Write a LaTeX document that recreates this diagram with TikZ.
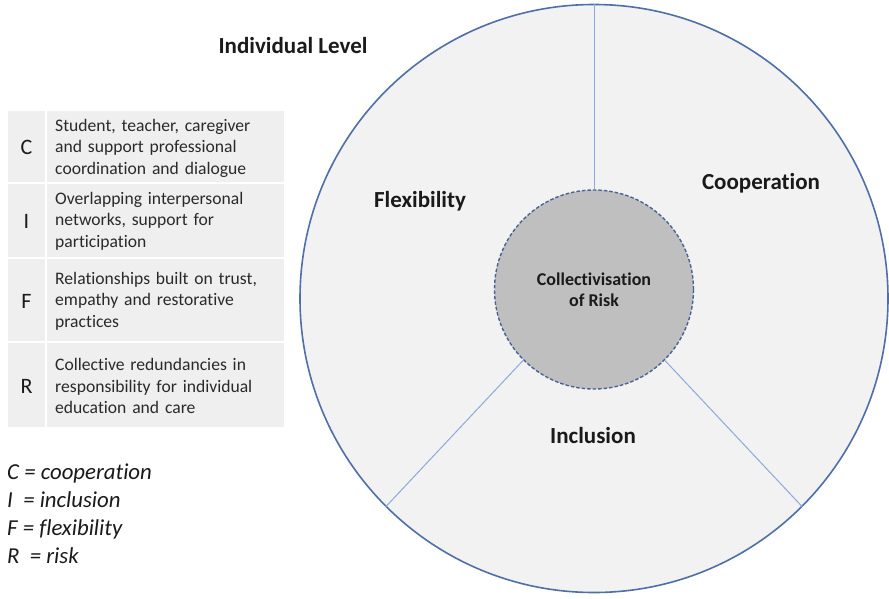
\documentclass[tikz,border=0pt]{standalone}
\usepackage{fontspec}
\setmainfont{Carlito}[Ligatures=NoCommon]
\begin{document}
\begin{tikzpicture}[x=1pt,y=-1pt,
  ringline/.style={draw=ringblue,line width=1.6pt,fill=sectorfill,circle,inner sep=0pt},
  coredisc/.style={draw=coreblue,line width=1.4pt,dash pattern=on 3.5pt off 2pt,fill=coregray,circle,inner sep=0pt},
  spoke/.style={draw=spokeblue,line width=1pt},
  sectorlabel/.style={font=\fontsize{23}{28}\selectfont\bfseries,text=inkblack},
  cell/.style={fill=cellgray,draw=white,line width=2pt},
  letter/.style={font=\fontsize{22}{26}\selectfont,text=inkblack},
  celltext/.style={font=\fontsize{17.6}{21.5}\selectfont,text=inkgray,align=left,anchor=west,inner sep=0pt,text width=230pt},
  legend/.style={font=\fontsize{22.8}{28}\selectfont\itshape,text=inkblack,align=left,anchor=north west,inner sep=0pt}
]
\definecolor{ringblue}{HTML}{4F6FA8}
\definecolor{spokeblue}{HTML}{8EA9DB}
\definecolor{coreblue}{HTML}{4A6396}
\definecolor{sectorfill}{HTML}{F2F2F2}
\definecolor{coregray}{HTML}{BFBFBF}
\definecolor{cellgray}{HTML}{EFEFEF}
\definecolor{inkblack}{HTML}{1A1A1A}
\definecolor{inkgray}{HTML}{2A2A2A}

% canvas
\fill[white] (0,0) rectangle (889,598);
\useasboundingbox (0,0) rectangle (889,598);

% outer ring, spokes and the central disc
\node[ringline,minimum size=588pt] (ring) at (594,298.5) {};
\node[coredisc,minimum size=199pt] (core) at (594,289.5) {};
\draw[spoke] (core.90) -- (ring.90);
\draw[spoke] (core.-45) -- (ring.-45);
\draw[spoke] (core.-135) -- (ring.-135);

% labels on the wheel
\node[font=\fontsize{18}{21}\selectfont\bfseries,text=inkblack,align=center] (risk) at (594,290) {Collectivisation\\of Risk};
\node[sectorlabel] (flex) at (420,201) {Flexibility};
\node[sectorlabel] (coop) at (761,183) {Cooperation};
\node[sectorlabel] (incl) at (593,436) {Inclusion};
\node[sectorlabel] (level) at (293,46) {Individual Level};

% table of dimensions
\draw[cell] (7,110) rectangle (46,183);
\draw[cell] (46,110) rectangle (285,183);
\draw[cell] (7,183) rectangle (46,258);
\draw[cell] (46,183) rectangle (285,258);
\draw[cell] (7,258) rectangle (46,342);
\draw[cell] (46,258) rectangle (285,342);
\draw[cell] (7,342) rectangle (46,428);
\draw[cell] (46,342) rectangle (285,428);

\node[letter] (lc) at (26.5,147) {C};
\node[letter] (li) at (26.5,221) {I};
\node[letter] (lf) at (26.5,301) {F};
\node[letter] (lr) at (26.5,386) {R};

\node[celltext] (tc) at (55,148) {Student, teacher, caregiver\\and support professional\\coordination and dialogue};
\node[celltext] (ti) at (55,221) {Overlapping interpersonal\\networks, support for\\participation};
\node[celltext] (tf) at (55,301) {Relationships built on trust,\\empathy and restorative\\practices};
\node[celltext] (tr) at (55,386) {Collective redundancies in\\responsibility for individual\\education and care};

% key
\node[legend] (key) at (7,464) {C = cooperation\\I \ = inclusion\\F = flexibility\\R \ = risk};
\end{tikzpicture}
\end{document}
